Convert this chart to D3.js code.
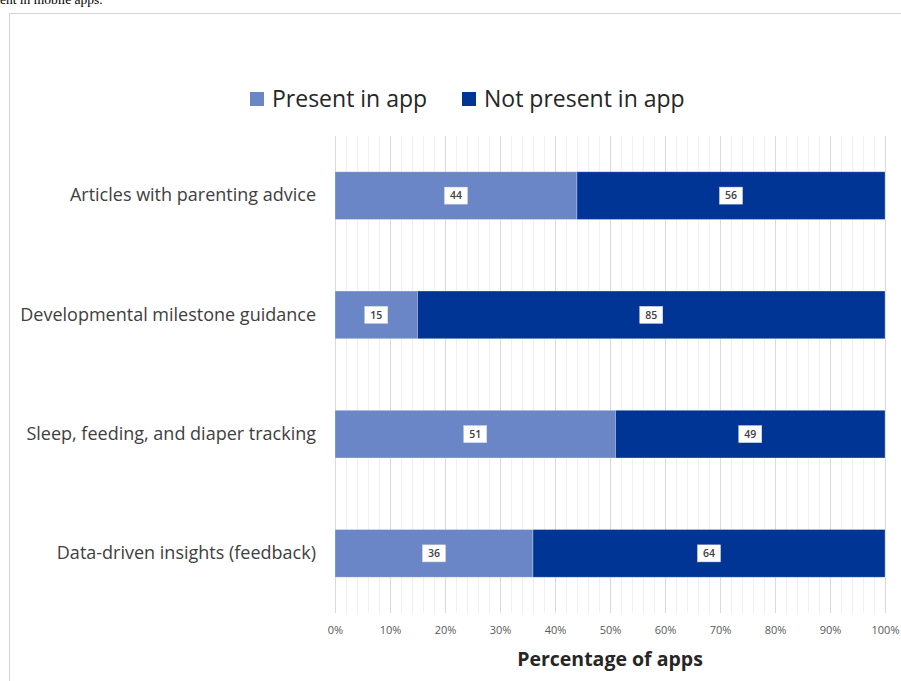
<!DOCTYPE html>
<html>
<head>
<meta charset="utf-8">
<script src="https://cdn.jsdelivr.net/npm/d3@7"></script>
<style>
  body { margin: 0; background: #fff; }
</style>
</head>
<body>
<script>
// chart data
const categories = [
    "Articles with parenting advice",
    "Developmental milestone guidance",
    "Sleep, feeding, and diaper tracking",
    "Data-driven insights (feedback)"
];
const presentValues = [44, 15, 51, 36];
const notPresentValues = [56, 85, 49, 64];
const seriesNames = ["Present in app", "Not present in app"];
const tickValues = [0, 10, 20, 30, 40, 50, 60, 70, 80, 90, 100];

const colors = ["#6b86c6", "#003595"];

// create svg canvas
const canvWidth = 901, canvHeight = 681;
const svg = d3.select("body").append("svg")
    .attr("width", canvWidth)
    .attr("height", canvHeight);

// caption tail from the page above (cut by the page top, as in the source)
svg.append("text")
    .attr("x", 0)
    .attr("y", 4)
    .attr("font-family", "Liberation Serif, serif")
    .attr("font-size", "13.5px")
    .attr("fill", "#000")
    .text("ent in mobile apps.");

// frame of the chart
svg.append("rect")
    .attr("x", 9.5)
    .attr("y", 13.5)
    .attr("width", 900)
    .attr("height", 700)
    .attr("fill", "none")
    .attr("stroke", "#d4d4d4");

const margin = { top: 136, right: 16, bottom: 68, left: 335 };
const width = canvWidth - margin.left - margin.right;
const height = canvHeight - margin.top - margin.bottom;

const g = svg.append("g")
    .attr("transform", "translate(" + margin.left + "," + margin.top + ")");

// scales
const xScale = d3.scaleLinear().domain([0, 100]).range([0, width]);
const yScale = d3.scaleBand().domain(categories).range([0, height]).paddingInner(0.6).paddingOuter(0.3);

// minor grid every 2%
g.append("g")
    .selectAll("line")
    .data(d3.range(0, 101, 2).filter(v => v % 10 !== 0))
    .enter().append("line")
    .attr("x1", d => xScale(d) + 0.5)
    .attr("x2", d => xScale(d) + 0.5)
    .attr("y1", 0)
    .attr("y2", height)
    .attr("stroke", "#f0f0f0")
    .attr("stroke-width", 1);

// major grid
g.append("g")
    .selectAll("line")
    .data(tickValues)
    .enter().append("line")
    .attr("x1", d => xScale(d) + 0.5)
    .attr("x2", d => xScale(d) + 0.5)
    .attr("y1", 0)
    .attr("y2", height)
    .attr("stroke", "#d9d9d9")
    .attr("stroke-width", 1);

// x axis labels
const xAxis = d3.axisBottom(xScale)
    .tickValues(tickValues)
    .tickSize(0)
    .tickPadding(13)
    .tickFormat(d => d + "%");
const xAxisG = g.append("g")
    .attr("transform", "translate(0," + height + ")")
    .call(xAxis);
xAxisG.select(".domain").remove();
xAxisG.selectAll("text")
    .attr("font-family", "Open Sans, sans-serif")
    .attr("font-size", "11px")
    .attr("fill", "#595959");

// y axis labels
const yAxis = d3.axisLeft(yScale).tickSize(0).tickPadding(19);
const yAxisG = g.append("g").call(yAxis);
yAxisG.select(".domain").remove();
yAxisG.selectAll("text")
    .attr("font-family", "Open Sans, sans-serif")
    .attr("font-size", "18px")
    .attr("fill", "#404040");

// stacked bars
const rows = categories.map((c, i) => ({ cat: c, present: presentValues[i], notPresent: notPresentValues[i] }));
const stacked = d3.stack().keys(["present", "notPresent"])(rows);

const layers = g.selectAll(".layer")
    .data(stacked)
    .enter().append("g")
    .attr("class", "layer")
    .attr("fill", (d, i) => colors[i]);

layers.selectAll("rect")
    .data(d => d)
    .enter().append("rect")
    .attr("x", d => xScale(d[0]))
    .attr("y", d => yScale(d.data.cat))
    .attr("width", d => xScale(d[1]) - xScale(d[0]))
    .attr("height", yScale.bandwidth())
    .attr("stroke", "#ffffff")
    .attr("stroke-opacity", 0.35)
    .attr("stroke-width", 0.8);

// data labels in white boxes
const labels = layers.selectAll(".lbl")
    .data(d => d)
    .enter().append("g")
    .attr("class", "lbl")
    .attr("transform", d => "translate(" + xScale((d[0] + d[1]) / 2) + "," + (yScale(d.data.cat) + yScale.bandwidth() / 2) + ")");

labels.append("rect")
    .attr("x", -11.5)
    .attr("y", -8.5)
    .attr("width", 23)
    .attr("height", 17)
    .attr("fill", "#ffffff")
    .attr("stroke", "#d9d9d9")
    .attr("stroke-width", 0.5);

labels.append("text")
    .attr("dy", "0.35em")
    .attr("font-family", "Open Sans, sans-serif")
    .attr("font-size", "10.5px")
    .attr("font-weight", "600")
    .attr("fill", "#404040")
    .style("text-anchor", "middle")
    .text(d => d[1] - d[0]);

// axis title
g.append("text")
    .attr("x", width / 2)
    .attr("y", height + 53)
    .attr("font-family", "Open Sans, sans-serif")
    .attr("font-size", "19.5px")
    .attr("font-weight", "bold")
    .attr("fill", "#262626")
    .style("text-anchor", "middle")
    .text("Percentage of apps");

// legend
const legendX = [250, 462];
const legend = svg.append("g")
    .selectAll("g")
    .data(seriesNames)
    .enter().append("g")
    .attr("transform", (d, i) => "translate(" + legendX[i] + ",92)");

legend.append("rect")
    .attr("width", 14)
    .attr("height", 14)
    .attr("fill", (d, i) => colors[i]);

legend.append("text")
    .attr("x", 22)
    .attr("y", 15)
    .attr("font-family", "Open Sans, sans-serif")
    .attr("font-size", "23px")
    .attr("fill", "#262626")
    .text(d => d);
</script>
</body>
</html>
